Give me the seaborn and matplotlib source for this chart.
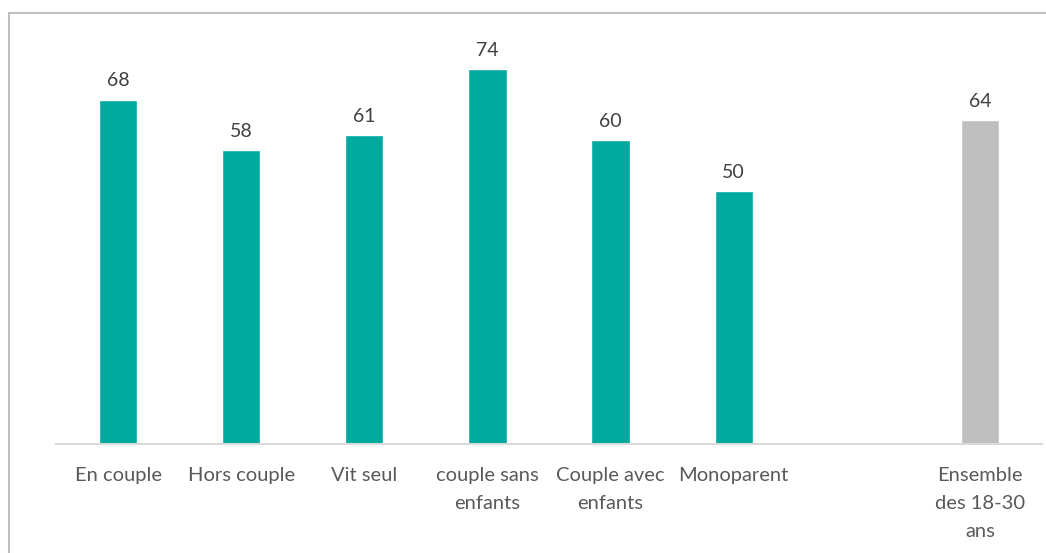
import numpy as np
import pandas as pd
import matplotlib
matplotlib.use("Agg")
import matplotlib.pyplot as plt
import seaborn as sns
from matplotlib.patches import Rectangle

# data
categories = ["En couple", "Hors couple", "Vit seul", "couple sans\nenfants",
              "Couple avec\nenfants", "Monoparent", " ", "Ensemble\ndes 18-30\nans"]
values = [68, 58, 61, 74, 60, 50, np.nan, 64]
bar_colors = ["#00A99D"] * 6 + ["#FFFFFF", "#BFBFBF"]

df = pd.DataFrame({"categorie": categories, "valeur": values})

sns.set_style("white")
plt.rcParams["font.family"] = ["Lato", "DejaVu Sans"]

fig = plt.figure(figsize=(10.46, 5.53), dpi=100)
ax = fig.add_axes([0.054, 0.197, 0.9417, 0.7324])

sns.barplot(data=df, x="categorie", y="valeur", hue="categorie",
            palette=bar_colors, width=0.31, saturation=1, legend=False, ax=ax)

ax.set_ylim(0, 80)
ax.set_xlim(-0.5, len(categories) - 0.5)

# value labels
for i, v in enumerate(values):
    if not np.isnan(v):
        ax.annotate(f"{v:.0f}", (i, v), xytext=(0, 7.5), textcoords="offset points",
                    ha="center", va="bottom", fontsize=14, color="#404040")

ax.set_xlabel("")
ax.set_ylabel("")
ax.set_yticks([])
ax.tick_params(axis="x", length=0, pad=16.5, labelsize=14.5, labelcolor="#595959")
for lbl in ax.get_xticklabels():
    lbl.set_linespacing(1.78)
    lbl.set_va("top")

for s in ["top", "right", "left"]:
    ax.spines[s].set_visible(False)
ax.spines["bottom"].set_color("#D9D9D9")
ax.spines["bottom"].set_linewidth(1.5)

# outer frame of the chart area
fig.patches.append(Rectangle((9 / 1046, -0.1), 1.2, (553 - 13) / 553 + 0.1,
                             transform=fig.transFigure, fill=False,
                             edgecolor="#BFBFBF", linewidth=1.5))

fig.savefig("out.png", dpi=100)
